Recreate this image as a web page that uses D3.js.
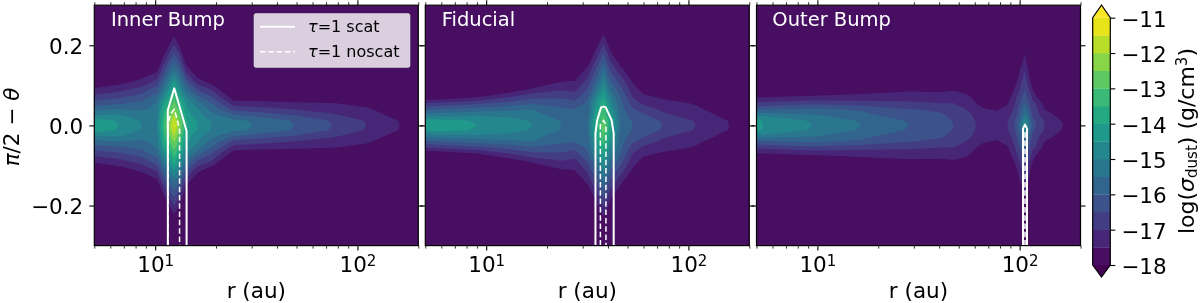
<!DOCTYPE html>
<html>
<head>
<meta charset="utf-8">
<script src="https://cdn.jsdelivr.net/npm/d3@7"></script>
<style>
  html, body { margin: 0; padding: 0; background: #fff; }
  svg { display: block; filter: blur(0.45px); font-family: "DejaVu Sans", sans-serif; }
  .spine { fill: none; stroke: #000; stroke-width: 1.2; }
  .axis path { display: none; }
  .axis line { stroke: #000; stroke-width: 1.1; }
  .axis.minor line { stroke-width: 0.8; }
  .axis text { font-family: "DejaVu Sans", sans-serif; font-size: 21.5px; fill: #000; }
</style>
</head>
<body>
<script>
// height above the midplane (rad), the map is mirrored below it
var thetaRows = [0, 0.012, 0.025, 0.04, 0.055, 0.07, 0.09, 0.11, 0.14, 0.18, 0.22, 0.26];

var innerR = [5, 6.6, 8.6, 9.4, 10.2, 11, 11.7, 12.4, 13.2, 14.3, 16.2, 19, 24.5, 30.5, 48.6, 75, 111, 134, 150, 158, 162, 200];
var innerRho = [
  [-14.2, -14.25, -14.96, -15.64, -16.25, -16.8, -17.42, -17.9, -18.4, -19, -19, -19],
  [-14.5, -14.55, -14.9, -15.5, -16.08, -16.58, -17.18, -17.75, -18.3, -19, -19, -19],
  [-15, -15.05, -15.32, -15.55, -15.88, -16.25, -16.8, -17.35, -18, -18.8, -19, -19],
  [-15.25, -15.28, -15.38, -15.48, -15.62, -15.95, -16.5, -17.12, -17.85, -18.6, -19, -19],
  [-15, -15.05, -15.2, -15.32, -15.43, -15.7, -16.27, -16.85, -17.7, -18.6, -19, -19],
  [-13.4, -13.5, -13.65, -13.85, -14.17, -14.67, -15.3, -15.87, -16.7, -17.7, -18.6, -19],
  [-12.3, -12.45, -12.75, -13.1, -13.5, -14, -14.55, -15.1, -15.95, -17, -18, -18.9],
  [-11.4, -11.6, -11.97, -12.42, -12.8, -13.17, -13.77, -14.4, -15.44, -16.5, -17.45, -18.4],
  [-12.4, -12.55, -12.85, -13.2, -13.6, -14, -14.6, -15.15, -16, -17.05, -18.1, -19],
  [-13.9, -14.0, -14.25, -14.4, -14.62, -15, -15.65, -16.3, -17.3, -18.3, -19, -19],
  [-14.5, -14.55, -14.78, -14.95, -15.33, -15.82, -16.58, -17.3, -18, -19, -19, -19],
  [-15, -15.05, -15.3, -15.65, -16, -16.45, -17.05, -17.75, -18.5, -19, -19, -19],
  [-15.35, -15.4, -15.9, -16.65, -17.25, -17.8, -18.4, -19, -19, -19, -19, -19],
  [-15.5, -15.55, -16.12, -16.75, -17.3, -17.8, -18.4, -19, -19, -19, -19, -19],
  [-16, -16.05, -16.48, -17, -17.4, -17.9, -18.5, -19, -19, -19, -19, -19],
  [-16.5, -16.55, -16.9, -17.2, -17.48, -17.9, -18.5, -19, -19, -19, -19, -19],
  [-17, -17.05, -17.25, -17.42, -17.65, -18, -18.5, -19, -19, -19, -19, -19],
  [-17.25, -17.3, -17.46, -17.65, -17.9, -18.2, -18.6, -19, -19, -19, -19, -19],
  [-17.38, -17.42, -17.62, -17.85, -18.1, -18.4, -18.8, -19, -19, -19, -19, -19],
  [-17.46, -17.49, -17.66, -17.9, -18.15, -18.45, -18.85, -19, -19, -19, -19, -19],
  [-17.5, -17.54, -17.72, -17.95, -18.2, -18.5, -18.9, -19, -19, -19, -19, -19],
  [-18.3, -18.4, -18.5, -18.6, -18.7, -18.8, -19, -19, -19, -19, -19, -19]
];

var fiducialR = [5, 9, 13, 17, 23.6, 27.5, 31.8, 35, 38.1, 41.2, 46, 53, 60, 74.6, 109, 134, 150, 156, 159, 200];
var fiducialRho = [
  [-14.2, -14.25, -15.2, -16.1, -17, -18, -18.5, -19, -19, -19, -19, -19],
  [-14.5, -14.55, -15.05, -15.8, -16.6, -17.5, -18.2, -18.8, -19, -19, -19, -19],
  [-14.75, -14.8, -15.15, -15.62, -16.3, -17, -17.85, -18.4, -19, -19, -19, -19],
  [-15, -15.05, -15.3, -15.5, -16.07, -16.6, -17.4, -18, -18.6, -19, -19, -19],
  [-15.5, -15.55, -15.75, -15.92, -16.2, -16.55, -17.05, -17.52, -18.2, -19, -19, -19],
  [-15.7, -15.74, -15.85, -15.97, -16.35, -16.7, -17.15, -17.47, -18, -18.8, -19, -19],
  [-15.5, -15.54, -15.68, -15.78, -15.88, -16.05, -16.45, -16.85, -17.35, -18.2, -19, -19],
  [-13.7, -13.8, -13.98, -14.25, -14.45, -14.82, -15.43, -15.9, -16.45, -17.3, -18, -19],
  [-12.7, -12.8, -12.95, -13.25, -13.65, -14.05, -14.45, -14.9, -15.55, -16.5, -17.35, -18.2],
  [-13.85, -13.95, -14.15, -14.45, -14.75, -15.05, -15.55, -16, -16.6, -17.4, -18.1, -19],
  [-15.5, -15.54, -15.68, -15.78, -15.88, -15.97, -16.3, -16.7, -17.3, -18.2, -19, -19],
  [-16, -16.04, -16.22, -16.42, -16.72, -17, -17.28, -17.55, -18.1, -18.8, -19, -19],
  [-16.2, -16.24, -16.4, -16.75, -17.1, -17.37, -17.7, -18.1, -18.6, -19, -19, -19],
  [-16.5, -16.55, -16.88, -17.1, -17.3, -17.57, -18, -18.4, -19, -19, -19, -19],
  [-17, -17.05, -17.25, -17.4, -17.55, -17.85, -18.3, -18.7, -19, -19, -19, -19],
  [-17.28, -17.32, -17.46, -17.65, -17.9, -18.2, -18.6, -19, -19, -19, -19, -19],
  [-17.42, -17.46, -17.63, -17.85, -18.1, -18.4, -18.8, -19, -19, -19, -19, -19],
  [-17.47, -17.5, -17.7, -17.92, -18.2, -18.5, -18.9, -19, -19, -19, -19, -19],
  [-17.5, -17.55, -17.78, -18, -18.3, -18.6, -19, -19, -19, -19, -19, -19],
  [-18.3, -18.4, -18.5, -18.6, -18.7, -18.8, -19, -19, -19, -19, -19, -19]
];

var outerR = [5, 5.4, 9.5, 16.5, 28.4, 41, 47.3, 54, 58, 61, 67, 77, 87, 94.4, 100, 103, 106, 110, 116, 120, 133, 146, 158, 164, 200];
var outerRho = [
  [-14.3, -14.36, -15.14, -16.1, -16.85, -17.5, -18, -18.5, -19, -19, -19, -19],
  [-14.5, -14.56, -15.07, -16.05, -16.85, -17.5, -18, -18.5, -19, -19, -19, -19],
  [-15, -15.07, -15.42, -15.9, -16.62, -17.38, -18, -18.5, -19, -19, -19, -19],
  [-15.5, -15.56, -15.83, -16.08, -16.8, -17.27, -17.8, -18.3, -19, -19, -19, -19],
  [-16, -16.05, -16.3, -16.47, -16.9, -17.23, -17.6, -18, -18.6, -19, -19, -19],
  [-16.3, -16.34, -16.42, -16.6, -17, -17.3, -17.6, -18, -18.6, -19, -19, -19],
  [-16.5, -16.53, -16.66, -16.82, -17, -17.25, -17.55, -18, -18.6, -19, -19, -19],
  [-16.75, -16.78, -16.86, -17, -17.2, -17.4, -17.63, -18, -18.6, -19, -19, -19],
  [-16.9, -16.93, -16.98, -17.12, -17.3, -17.52, -17.85, -18.3, -18.8, -19, -19, -19],
  [-17, -17.03, -17.15, -17.32, -17.5, -17.72, -18.1, -18.5, -19, -19, -19, -19],
  [-17.12, -17.15, -17.28, -17.47, -17.68, -17.9, -18.2, -18.6, -19, -19, -19, -19],
  [-17.2, -17.23, -17.35, -17.54, -17.75, -18, -18.3, -18.6, -19, -19, -19, -19],
  [-17, -17.04, -17.2, -17.38, -17.55, -17.75, -18.1, -18.5, -19, -19, -19, -19],
  [-16.5, -16.56, -16.75, -16.9, -17.05, -17.2, -17.45, -17.8, -18.3, -19, -19, -19],
  [-15.8, -15.9, -16.1, -16.3, -16.5, -16.7, -17, -17.2, -17.55, -18.2, -19, -19],
  [-15, -15.25, -15.6, -15.9, -16.2, -16.45, -16.75, -16.95, -17.3, -17.9, -18.6, -19],
  [-14.3, -14.6, -15.25, -15.7, -16, -16.25, -16.52, -16.75, -17.03, -17.52, -18.2, -19],
  [-15, -15.25, -15.62, -16, -16.35, -16.6, -16.87, -17.12, -17.5, -18.2, -19, -19],
  [-16.3, -16.36, -16.6, -16.78, -16.92, -17.1, -17.5, -17.9, -18.5, -19, -19, -19],
  [-16.5, -16.55, -16.75, -16.88, -17, -17.4, -17.85, -18.3, -19, -19, -19, -19],
  [-17, -17.05, -17.3, -17.5, -17.7, -17.95, -18.3, -18.7, -19, -19, -19, -19],
  [-17.25, -17.3, -17.46, -17.65, -17.9, -18.2, -18.6, -19, -19, -19, -19, -19],
  [-17.42, -17.47, -17.62, -17.85, -18.1, -18.4, -18.8, -19, -19, -19, -19, -19],
  [-17.5, -17.55, -17.85, -18.1, -18.4, -18.7, -19, -19, -19, -19, -19, -19],
  [-18.3, -18.4, -18.5, -18.6, -18.7, -18.8, -19, -19, -19, -19, -19, -19]
];

// tau=1 surfaces, [r, pi/2 - theta]
var innerScat = [[11.55, -0.3], [11.55, 0.038], [12.43, 0.0925], [14.3, -0.014], [14.3, -0.3]];
var innerNoscat = [[11.55, -0.3], [11.6, 0.005], [11.95, 0.03], [12.43, 0.04], [12.85, 0.014], [13.2, -0.012], [13.2, -0.3]];
var fiducialScat = [[34.7, -0.3], [34.7, -0.02], [35.4, 0.013], [37, 0.045], [38.1, 0.047], [39, 0.045], [41.7, 0.013], [42.7, -0.02], [42.7, -0.3]];
var fiducialNoscat = [[36.7, -0.3], [36.7, 0.002], [38.1, 0.012], [39.1, 0.002], [39.1, -0.3]];
var outerScat = [[103.9, -0.3], [103.9, -0.008], [106.3, 0.002], [108.8, -0.008], [108.8, -0.3]];
var outerNoscat = [[106.3, -0.3], [106.3, -0.01]];

var levels = d3.range( -17.5, -11.25, 0.5 );
var barEdges = d3.range( -18, -10.75, 0.5 );
var rMajor = [10, 100];
var rMinor = [5, 6, 7, 8, 9, 20, 30, 40, 50, 60, 70, 80, 90, 200];
var thetaTicks = [-0.2, 0, 0.2];
var barTicks = [-18, -17, -16, -15, -14, -13, -12, -11];

var panels = [
  { title: "Inner Bump", r: innerR, rho: innerRho, scat: innerScat, noscat: innerNoscat, left: 94.3, titleX: 111 },
  { title: "Fiducial", r: fiducialR, rho: fiducialRho, scat: fiducialScat, noscat: fiducialNoscat, left: 425.3, titleX: 441.7 },
  { title: "Outer Bump", r: outerR, rho: outerRho, scat: outerScat, noscat: outerNoscat, left: 756.5, titleX: 772.3 }
];

var panelWidth = 324;
var plotTop = 5.2;
var plotBottom = 245.6;

var svg = d3.select( "body" ).append( "svg" )
  .attr( "width", 1200 )
  .attr( "height", 303 );

function bandColor( low ) {
  return d3.interpolateViridis( ( low + 0.25 + 18 ) / 7 );
}

var y = d3.scaleLinear().domain( [-0.3, 0.3] ).range( [plotBottom, plotTop] );

panels.forEach( function ( p, idx ) {
  var x = d3.scaleLog().domain( [5, 200] ).range( [p.left, p.left + panelWidth] );
  var g = svg.append( "g" );
  var clipId = "clip" + idx;

  g.append( "clipPath" ).attr( "id", clipId )
    .append( "rect" )
    .attr( "x", p.left ).attr( "y", plotTop )
    .attr( "width", panelWidth ).attr( "height", plotBottom - plotTop );

  // mirrored rows, top of the panel first
  var fullTheta = thetaRows.slice( 1 ).reverse().concat( [0], thetaRows.slice( 1 ).map( function ( t ) { return -t; } ) );
  var nx = p.r.length;
  var ny = fullTheta.length;
  var values = [];
  fullTheta.forEach( function ( t ) {
    var row = thetaRows.indexOf( Math.abs( t ) );
    p.rho.forEach( function ( col ) { values.push( col[row] ); } );
  } );

  var colToLogR = d3.scaleLinear().domain( d3.range( nx ) ).range( p.r.map( Math.log10 ) );
  var rowToTheta = d3.scaleLinear().domain( d3.range( ny ) ).range( fullTheta );
  var project = d3.geoTransform( {
    point: function ( cx, cy ) {
      this.stream.point( x( Math.pow( 10, colToLogR( cx - 0.5 ) ) ), y( rowToTheta( cy - 0.5 ) ) );
    }
  } );
  var path = d3.geoPath( project );

  var body = g.append( "g" ).attr( "clip-path", "url(#" + clipId + ")" );
  body.append( "rect" )
    .attr( "x", p.left ).attr( "y", plotTop )
    .attr( "width", panelWidth ).attr( "height", plotBottom - plotTop )
    .attr( "fill", bandColor( -18 ) );

  body.selectAll( "path.band" )
    .data( d3.contours().size( [nx, ny] ).thresholds( levels )( values ) )
    .enter().append( "path" )
    .attr( "class", "band" )
    .attr( "d", path )
    .attr( "fill", function ( d ) { return bandColor( d.value ); } );

  var line = d3.line()
    .x( function ( d ) { return x( d[0] ); } )
    .y( function ( d ) { return y( d[1] ); } );

  body.append( "path" ).attr( "d", line( p.noscat ) )
    .attr( "fill", "none" ).attr( "stroke", "#fff" )
    .attr( "stroke-width", 1.5 ).attr( "stroke-dasharray", "5.5,2.8" );
  body.append( "path" ).attr( "d", line( p.scat ) )
    .attr( "fill", "none" ).attr( "stroke", "#fff" )
    .attr( "stroke-width", 2 ).attr( "stroke-linejoin", "round" );

  g.append( "rect" ).attr( "class", "spine" )
    .attr( "x", p.left ).attr( "y", plotTop )
    .attr( "width", panelWidth ).attr( "height", plotBottom - plotTop );

  // ticks on all four sides, only the outer ones get labels
  var xB = g.append( "g" ).attr( "class", "axis" ).attr( "transform", "translate(0," + plotBottom + ")" )
    .call( d3.axisBottom( x ).tickValues( rMajor ).tickSize( 5 ).tickSizeOuter( 0 ).tickPadding( 4 ).tickFormat( "" ) );
  g.append( "g" ).attr( "class", "axis minor" ).attr( "transform", "translate(0," + plotBottom + ")" )
    .call( d3.axisBottom( x ).tickValues( rMinor ).tickSize( 3 ).tickSizeOuter( 0 ).tickFormat( "" ) );
  g.append( "g" ).attr( "class", "axis" ).attr( "transform", "translate(0," + plotTop + ")" )
    .call( d3.axisTop( x ).tickValues( rMajor ).tickSize( 5 ).tickSizeOuter( 0 ).tickFormat( "" ) );
  g.append( "g" ).attr( "class", "axis minor" ).attr( "transform", "translate(0," + plotTop + ")" )
    .call( d3.axisTop( x ).tickValues( rMinor ).tickSize( 3 ).tickSizeOuter( 0 ).tickFormat( "" ) );

  xB.selectAll( ".tick text" ).each( function ( d ) {
    var t = d3.select( this ).attr( "y", 11 ).attr( "dy", "0.71em" );
    t.text( null );
    t.append( "tspan" ).text( "10" );
    t.append( "tspan" ).attr( "dy", "-0.42em" ).attr( "font-size", "15px" ).text( Math.round( Math.log10( d ) ) );
  } );

  var yL = g.append( "g" ).attr( "class", "axis" ).attr( "transform", "translate(" + p.left + ",0)" )
    .call( d3.axisLeft( y ).tickValues( thetaTicks ).tickSize( 5 ).tickSizeOuter( 0 ).tickPadding( 6 )
      .tickFormat( function ( d ) { return idx === 0 ? d3.format( ".1f" )( d ).replace( "-", "\u2212" ) : ""; } ) );
  yL.selectAll( ".tick text" ).attr( "dy", "0.36em" );
  g.append( "g" ).attr( "class", "axis" ).attr( "transform", "translate(" + ( p.left + panelWidth ) + ",0)" )
    .call( d3.axisRight( y ).tickValues( thetaTicks ).tickSize( 5 ).tickSizeOuter( 0 ).tickFormat( "" ) );

  g.append( "text" )
    .attr( "x", p.titleX ).attr( "y", 25.5 )
    .attr( "font-size", 19.5 ).attr( "fill", "#fff" )
    .text( p.title );

  g.append( "text" )
    .attr( "x", p.left + panelWidth / 2 ).attr( "y", 298 )
    .attr( "text-anchor", "middle" ).attr( "font-size", 21.5 )
    .text( "r (au)" );
} );

// y label
var yLabel = svg.append( "text" )
  .attr( "transform", "translate(19,127) rotate(-90)" )
  .attr( "text-anchor", "middle" ).attr( "font-size", 21.5 );
yLabel.append( "tspan" ).attr( "font-style", "italic" ).text( "\u03c0" );
yLabel.append( "tspan" ).text( "/2 \u2212 " );
yLabel.append( "tspan" ).attr( "font-style", "italic" ).text( "\u03b8" );

// legend
var legend = svg.append( "g" );
legend.append( "rect" )
  .attr( "x", 254 ).attr( "y", 13.5 ).attr( "width", 156 ).attr( "height", 54 ).attr( "rx", 2 )
  .attr( "fill", "#fff" ).attr( "fill-opacity", 0.8 )
  .attr( "stroke", "#ccc" ).attr( "stroke-opacity", 0.8 ).attr( "stroke-width", 0.8 );
[
  { name: "=1 scat", y: 26.7, dash: null, width: 2 },
  { name: "=1 noscat", y: 51.7, dash: "5.5,2.8", width: 1.5 }
].forEach( function ( d ) {
  legend.append( "line" )
    .attr( "x1", 260 ).attr( "x2", 295 ).attr( "y1", d.y ).attr( "y2", d.y )
    .attr( "stroke", "#fff" ).attr( "stroke-width", d.width ).attr( "stroke-dasharray", d.dash );
  var t = legend.append( "text" ).attr( "x", 308 ).attr( "y", d.y + 5.5 ).attr( "font-size", 16 );
  t.append( "tspan" ).attr( "font-style", "italic" ).text( "\u03c4" );
  t.append( "tspan" ).text( d.name );
} );

// colorbar
var barLeft = 1092.7;
var barRight = 1110.3;
var barMid = ( barLeft + barRight ) / 2;
var c = d3.scaleLinear().domain( [-18, -11] ).range( [265, 17.7] );
var bar = svg.append( "g" );

bar.selectAll( "rect" )
  .data( barEdges.slice( 0, -1 ) )
  .enter().append( "rect" )
  .attr( "x", barLeft ).attr( "width", barRight - barLeft )
  .attr( "y", function ( d ) { return c( d + 0.5 ); } )
  .attr( "height", function ( d ) { return c( d ) - c( d + 0.5 ) + 0.3; } )
  .attr( "fill", bandColor );

bar.append( "path" )
  .attr( "d", "M" + barLeft + "," + c( -11 ) + "L" + barMid + ",5L" + barRight + "," + c( -11 ) + "Z" )
  .attr( "fill", d3.interpolateViridis( 1 ) );
bar.append( "path" )
  .attr( "d", "M" + barLeft + "," + c( -18 ) + "L" + barMid + ",277L" + barRight + "," + c( -18 ) + "Z" )
  .attr( "fill", d3.interpolateViridis( 0 ) );
bar.append( "path" )
  .attr( "d", "M" + barLeft + "," + c( -18 ) + "L" + barMid + ",277L" + barRight + "," + c( -18 ) + "L" + barRight + "," + c( -11 )
    + "L" + barMid + ",5L" + barLeft + "," + c( -11 ) + "Z" )
  .attr( "fill", "none" ).attr( "stroke", "#000" ).attr( "stroke-width", 1.2 );

var barAxis = bar.append( "g" ).attr( "class", "axis" ).attr( "transform", "translate(" + barRight + ",0)" )
  .call( d3.axisRight( c ).tickValues( barTicks ).tickSize( 5 ).tickSizeOuter( 0 ).tickPadding( 6 )
    .tickFormat( function ( d ) { return String( d ).replace( "-", "\u2212" ); } ) );
barAxis.selectAll( ".tick text" ).attr( "dy", "0.4em" );

var barLabel = svg.append( "text" )
  .attr( "transform", "translate(1193.5,141) rotate(-90)" )
  .attr( "text-anchor", "middle" ).attr( "font-size", 22 );
barLabel.append( "tspan" ).text( "log(" );
barLabel.append( "tspan" ).attr( "font-style", "italic" ).text( "\u03c3" );
barLabel.append( "tspan" ).attr( "dy", 3 ).attr( "font-size", 15 ).text( "dust" );
barLabel.append( "tspan" ).attr( "dy", -3 ).text( ")  (g/cm" );
barLabel.append( "tspan" ).attr( "dy", -7 ).attr( "font-size", 15 ).text( "3" );
barLabel.append( "tspan" ).attr( "dy", 7 ).text( ")" );
</script>
</body>
</html>
